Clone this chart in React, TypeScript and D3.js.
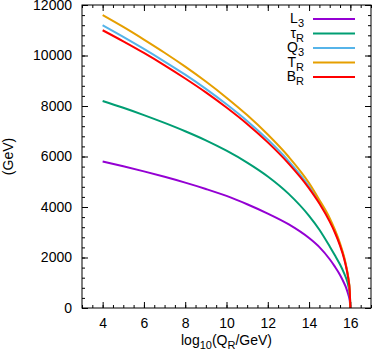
import React, { useRef, useEffect } from 'react';
import { select, scaleLinear, axisBottom, axisLeft, axisTop, axisRight, line, curveMonotoneX, range } from 'd3';

// log10(Q_R/GeV) sample points
const qValues = [4, 5, 6, 7, 8, 9, 10, 11, 12, 13, 14, 14.5, 15, 15.25, 15.5, 15.7, 15.8, 15.9, 15.97, 16];

// masses in GeV
const L3 = [5800, 5610, 5410, 5195, 4965, 4715, 4440, 4110, 3740, 3320, 2770, 2410, 1930, 1640, 1310, 980, 790, 530, 290, 0];
const tauR = [8200, 7930, 7640, 7330, 7000, 6640, 6230, 5760, 5210, 4530, 3650, 3100, 2440, 2090, 1720, 1370, 1170, 890, 520, 0];
const Q3 = [11200, 10740, 10260, 9760, 9240, 8680, 8070, 7410, 6670, 5830, 4820, 4200, 3480, 3040, 2510, 1980, 1630, 1185, 675, 0];
const TR = [11600, 11130, 10630, 10110, 9560, 8970, 8330, 7640, 6870, 6000, 4950, 4280, 3560, 3100, 2560, 2020, 1660, 1210, 690, 0];
const BR = [11000, 10560, 10100, 9610, 9090, 8540, 7940, 7290, 6560, 5730, 4740, 4140, 3420, 2990, 2470, 1945, 1605, 1160, 660, 0];

const series = [
  { name: 'L', sub: '3', values: L3, color: '#9400d3' },
  { name: 'τ', sub: 'R', values: tauR, color: '#009e73' },
  { name: 'Q', sub: '3', values: Q3, color: '#56b4e9' },
  { name: 'T', sub: 'R', values: TR, color: '#e69f00' },
  { name: 'B', sub: 'R', values: BR, color: '#ff0000' },
];

const xTicks = [4, 6, 8, 10, 12, 14, 16];
const yTicks = [0, 2000, 4000, 6000, 8000, 10000, 12000];

const W = 374, H = 353;
const margin = { left: 82, top: 5, right: 3, bottom: 45 };
const FONT = 'Liberation Sans, Arial, Helvetica, sans-serif';

export default function App() {
  const svgRef = useRef<SVGSVGElement>(null);

  useEffect(() => {
    const svg = select(svgRef.current);
    svg.selectAll('*').remove();

    const iw = W - margin.left - margin.right;
    const ih = H - margin.top - margin.bottom;

    const x = scaleLinear().domain([3, 17]).range([0, iw]);
    const y = scaleLinear().domain([0, 12000]).range([ih, 0]);

    const g = svg.append('g').attr('transform', `translate(${margin.left},${margin.top})`);

    const xMinor = range(3, 17.01, 0.5);
    const yMinor = range(0, 12001, 400);

    const style = (sel: any) => {
      sel.select('.domain').remove();
      sel.selectAll('line').attr('stroke', '#000').attr('stroke-width', 1);
      sel.selectAll('text').attr('font-family', FONT).attr('font-size', 14).attr('fill', '#000');
    };

    // minor ticks
    g.append('g').attr('transform', `translate(0,${ih})`)
      .call(axisBottom(x).tickValues(xMinor).tickSize(-3).tickFormat(() => '')).call(style);
    g.append('g')
      .call(axisTop(x).tickValues(xMinor).tickSize(-3).tickFormat(() => '')).call(style);
    g.append('g')
      .call(axisLeft(y).tickValues(yMinor).tickSize(-3).tickFormat(() => '')).call(style);
    g.append('g').attr('transform', `translate(${iw},0)`)
      .call(axisRight(y).tickValues(yMinor).tickSize(-3).tickFormat(() => '')).call(style);

    // major ticks
    g.append('g').attr('transform', `translate(0,${ih})`)
      .call(axisBottom(x).tickValues(xTicks).tickSize(-6).tickPadding(10).tickFormat((d: any) => String(d))).call(style);
    g.append('g')
      .call(axisTop(x).tickValues(xTicks).tickSize(-6).tickFormat(() => '')).call(style);
    g.append('g')
      .call(axisLeft(y).tickValues(yTicks).tickSize(-6).tickPadding(10).tickFormat((d: any) => String(d))).call(style);
    g.append('g').attr('transform', `translate(${iw},0)`)
      .call(axisRight(y).tickValues(yTicks).tickSize(-6).tickFormat(() => '')).call(style);

    // curves
    const lineGen = line<number>()
      .x((_, i) => x(qValues[i]))
      .y(d => y(d))
      .curve(curveMonotoneX);

    series.forEach(s => {
      g.append('path')
        .attr('d', lineGen(s.values))
        .attr('fill', 'none')
        .attr('stroke', s.color)
        .attr('stroke-width', 2);
    });

    // border
    g.append('rect')
      .attr('width', iw).attr('height', ih)
      .attr('fill', 'none').attr('stroke', '#000').attr('stroke-width', 1);

    // legend
    const lg = g.append('g').attr('transform', `translate(${304 - margin.left},${19 - margin.top})`);
    series.forEach((s, i) => {
      const row = lg.append('g').attr('transform', `translate(0,${i * 14.5})`);
      const t = row.append('text')
        .attr('x', 0).attr('y', 4)
        .attr('text-anchor', 'end')
        .attr('font-family', FONT).attr('font-size', 14);
      t.append('tspan').text(s.name);
      t.append('tspan').attr('dy', 4).attr('font-size', 11).text(s.sub);
      row.append('line')
        .attr('x1', 9).attr('x2', 51).attr('y1', 0).attr('y2', 0)
        .attr('stroke', s.color).attr('stroke-width', 2);
    });

    // axis titles
    const xt = svg.append('text')
      .attr('x', margin.left + x(10)).attr('y', 345)
      .attr('text-anchor', 'middle')
      .attr('font-family', FONT).attr('font-size', 14);
    xt.append('tspan').text('log');
    xt.append('tspan').attr('dy', 4).attr('font-size', 11).text('10');
    xt.append('tspan').attr('dy', -4).text('(Q');
    xt.append('tspan').attr('dy', 4).attr('font-size', 11).text('R');
    xt.append('tspan').attr('dy', -4).text('/GeV)');

    svg.append('text')
      .attr('transform', `translate(13,${margin.top + ih / 2}) rotate(-90)`)
      .attr('text-anchor', 'middle')
      .attr('font-family', FONT).attr('font-size', 14)
      .text('(GeV)');
  }, []);

  return (
    <svg ref={svgRef} width={W} height={H}
      style={{ position: 'absolute', left: 0, top: 0, background: '#fff' }} />
  );
}
